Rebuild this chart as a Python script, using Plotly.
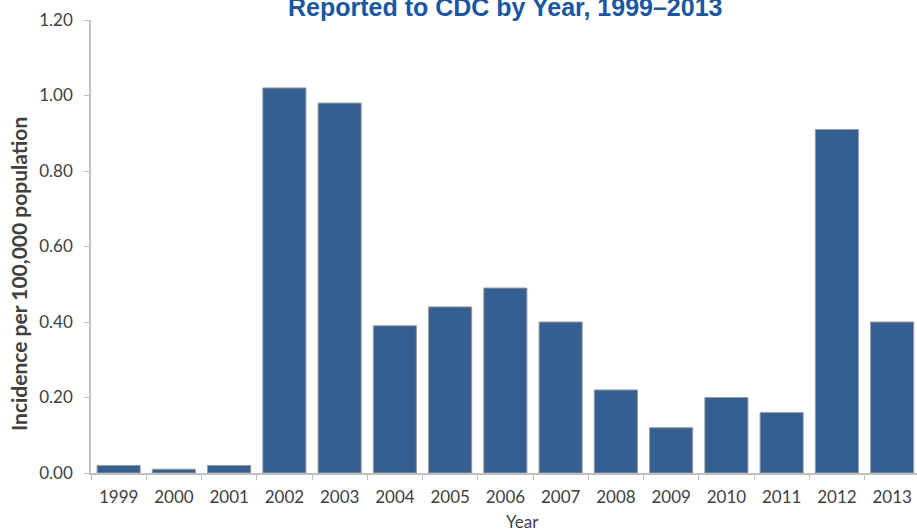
import plotly.graph_objects as go

years = ["1999", "2000", "2001", "2002", "2003", "2004", "2005", "2006",
         "2007", "2008", "2009", "2010", "2011", "2012", "2013"]
incidence = [0.02, 0.01, 0.02, 1.02, 0.98, 0.39, 0.44, 0.49,
             0.40, 0.22, 0.12, 0.20, 0.16, 0.91, 0.40]
y_ticks = [0.0, 0.2, 0.4, 0.6, 0.8, 1.0, 1.2]
y_tick_labels = ["0.00", "0.20", "0.40", "0.60", "0.80", "1.00", "1.20"]

title_text = "Reported to CDC by Year, 1999\u20132013"
y_title = "Incidence per 100,000 population"
x_title = "Year"

fig = go.Figure()
fig.add_trace(go.Bar(
    x=years, y=incidence,
    marker=dict(color="#355F91", line=dict(color="#9A9A9A", width=1)),
    width=0.78,
))

fig.update_layout(
    width=917, height=531,
    margin=dict(l=91, r=0, t=20, b=58),
    paper_bgcolor="white", plot_bgcolor="white",
    showlegend=False,
    font=dict(family="Lato, Open Sans, sans-serif", color="#404040"),
    xaxis=dict(
        type="category",
        range=[-0.5, 14.45],
        automargin=False,
        showline=True, linecolor="#BFBFBF", linewidth=1.5,
        ticks="outside", tickson="boundaries", ticklen=5, tickcolor="#BFBFBF",
        ticklabelstandoff=8,
        tickfont=dict(size=17, color="#404040"),
        showgrid=False, zeroline=False,
    ),
    yaxis=dict(
        range=[0, 1.2],
        automargin=False,
        tickvals=y_ticks, ticktext=y_tick_labels,
        showline=True, linecolor="#BFBFBF", linewidth=1.5,
        ticks="outside", ticklen=5, tickcolor="#BFBFBF",
        ticklabelstandoff=8,
        tickfont=dict(size=17, color="#404040"),
        showgrid=False, zeroline=False,
    ),
    annotations=[
        dict(text="<b>" + title_text + "</b>", xref="paper", yref="paper",
             x=(505 - 91) / 826, y=1 + (20 - 7) / 453, xanchor="center", yanchor="middle",
             showarrow=False, font=dict(family="Liberation Sans, Arial, sans-serif",
                                         size=25, color="#1B56A0")),
        dict(text="<b>" + y_title + "</b>", xref="paper", yref="paper",
             x=-(91 - 18) / 826, y=(473 - 274) / 453, textangle=-90, xanchor="center", yanchor="middle",
             showarrow=False, font=dict(size=21, color="#404040")),
        dict(text=x_title, xref="paper", yref="paper",
             x=(522 - 91) / 826, y=-(521 - 473) / 453, xanchor="center", yanchor="middle",
             showarrow=False, font=dict(size=17, color="#404040")),
    ],
)

fig.write_html(
    "out.html",
    config={"displayModeBar": False},
    post_script="document.body.style.margin='0';document.body.style.overflow='hidden';",
)
